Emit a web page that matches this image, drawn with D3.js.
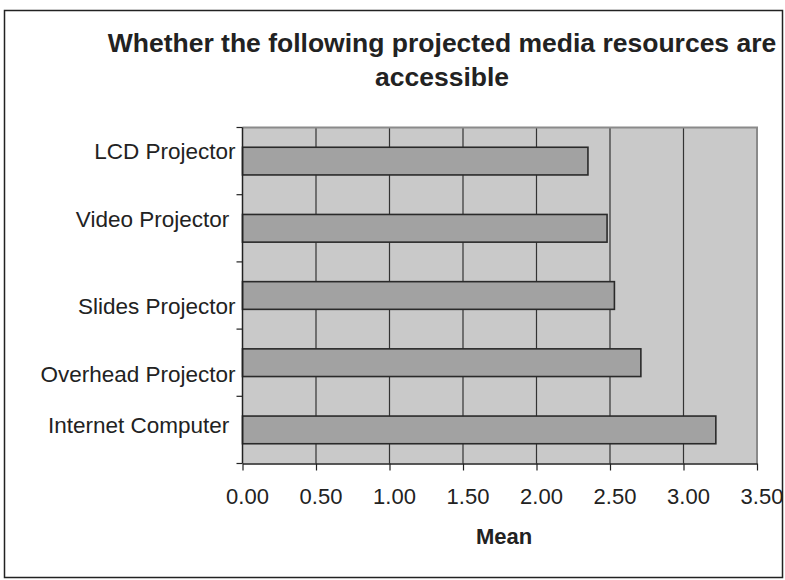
<!DOCTYPE html>
<html>
<head>
<meta charset="utf-8">
<script src="https://cdn.jsdelivr.net/npm/d3@7"></script>
<style>
  html, body { margin: 0; padding: 0; background: #fff; }
  svg { display: block; font-family: "Liberation Sans", Arial, sans-serif; }
</style>
</head>
<body>
<svg id="chart" width="785" height="580"></svg>
<script>
// Resources, listed top to bottom
const categories = ["LCD Projector", "Video Projector ", "Slides Projector", "Overhead Projector", "Internet Computer "];
// Mean accessibility score for each resource
const means = [2.35, 2.48, 2.53, 2.71, 3.22];
// Axis ticks
const xTicks = [0, 0.5, 1, 1.5, 2, 2.5, 3, 3.5];
const titleLines = ["Whether the following projected media resources are", "accessible"];
const xTitle = "Mean";

// Vertical nudges for the category labels (layout only)
const labelNudge = [-9, -8, 11, 12, -4];

const svg = d3.select("#chart");
const W = 785, H = 580;
const plot = { left: 242.5, right: 757, top: 127.5, bottom: 463.5 };

// Outer frame
svg.append("rect")
  .attr("x", 4.5).attr("y", 10.5)
  .attr("width", W - 7).attr("height", H - 13)
  .attr("fill", "#fff").attr("stroke", "#222").attr("stroke-width", 1.5);

// Title
svg.append("g").selectAll("text").data(titleLines).join("text")
  .attr("x", 442).attr("y", (d, i) => 52 + i * 34)
  .attr("text-anchor", "middle")
  .attr("font-size", 26.5).attr("font-weight", "bold").attr("fill", "#222")
  .text(d => d);

const x = d3.scaleLinear().domain([0, 3.5]).range([plot.left, plot.right]);
const y = d3.scaleBand().domain(categories)
  .range([plot.top, plot.bottom]).paddingInner(0.588).paddingOuter(0.294);

// Plot background
svg.append("rect")
  .attr("x", plot.left).attr("y", plot.top)
  .attr("width", plot.right - plot.left).attr("height", plot.bottom - plot.top)
  .attr("fill", "#c9c9c9");

// Gridlines
svg.append("g").selectAll("line").data(xTicks.slice(1, -1)).join("line")
  .attr("x1", d => x(d)).attr("x2", d => x(d))
  .attr("y1", plot.top).attr("y2", plot.bottom)
  .attr("stroke", "#333").attr("stroke-width", 1.2);

// Top and right plot border
svg.append("path")
  .attr("d", `M${plot.left},${plot.top}H${plot.right}V${plot.bottom}`)
  .attr("fill", "none").attr("stroke", "#8a8a8a").attr("stroke-width", 2);

// Bars
svg.append("g").selectAll("rect").data(categories).join("rect")
  .attr("x", x(0))
  .attr("y", d => y(d))
  .attr("width", (d, i) => x(means[i]) - x(0))
  .attr("height", y.bandwidth())
  .attr("fill", "#a2a2a2")
  .attr("stroke", "#2a2a2a").attr("stroke-width", 1.6);

// X axis
const xAxis = svg.append("g")
  .attr("transform", `translate(0,${plot.bottom})`)
  .call(d3.axisBottom(x).tickValues(xTicks).tickFormat(d3.format(".2f")).tickSize(7).tickSizeOuter(0));
xAxis.select(".domain").attr("stroke", "#222").attr("stroke-width", 1.5);
xAxis.selectAll(".tick line").attr("stroke", "#222").attr("stroke-width", 1.2);
xAxis.selectAll(".tick text")
  .attr("font-size", 22).attr("fill", "#222")
  .attr("font-family", "Liberation Sans, Arial, sans-serif")
  .attr("dx", 4.5).attr("y", 0).attr("dy", 0)
  .attr("transform", "translate(0,40.5)");

// Y axis line and ticks at band boundaries
const step = y.step();
const yBounds = d3.range(categories.length + 1).map(i => plot.top + i * step);
svg.append("line")
  .attr("x1", plot.left).attr("x2", plot.left)
  .attr("y1", plot.top).attr("y2", plot.bottom)
  .attr("stroke", "#222").attr("stroke-width", 1.5);
svg.append("g").selectAll("line").data(yBounds).join("line")
  .attr("x1", plot.left - 6).attr("x2", plot.left)
  .attr("y1", d => d).attr("y2", d => d)
  .attr("stroke", "#222").attr("stroke-width", 1.2);

// Category labels
svg.append("g").selectAll("text").data(categories).join("text")
  .attr("x", plot.left - 7)
  .attr("y", (d, i) => y(d) + y.bandwidth() / 2 + 7 + labelNudge[i])
  .attr("text-anchor", "end")
  .attr("font-size", 22.5).attr("fill", "#222")
  .style("white-space", "pre")
  .text(d => d);

// X axis title
svg.append("text")
  .attr("x", 504).attr("y", 544)
  .attr("text-anchor", "middle")
  .attr("font-size", 22).attr("font-weight", "bold").attr("fill", "#222")
  .text(xTitle);
</script>
</body>
</html>
